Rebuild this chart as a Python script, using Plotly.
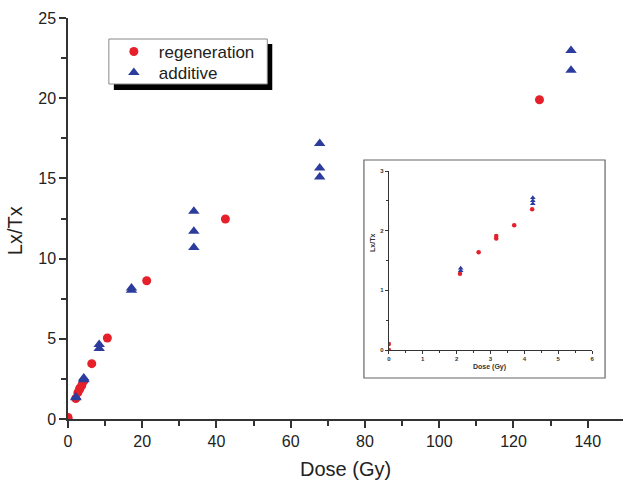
import plotly.graph_objects as go

# Data
reg_dose = [0, 0, 2.1, 2.65, 3.17, 3.17, 3.7, 4.23, 6.4, 10.6, 21.2, 42.4, 127]
reg_lxtx = [0.1, 0.0, 1.28, 1.64, 1.87, 1.91, 2.09, 2.36, 3.45, 5.05, 8.62, 12.47, 19.9]

add_dose = [2.12, 2.12, 4.25, 4.25, 4.25, 8.4, 8.4, 17.1, 17.1, 33.9, 33.9, 33.9,
            67.8, 67.8, 67.8, 135.5, 135.5]
add_lxtx = [1.33, 1.37, 2.45, 2.5, 2.55, 4.4, 4.65, 8.03, 8.16, 10.69, 11.7, 12.95,
            15.09, 15.65, 17.17, 21.75, 22.98]

main_xticks = [0, 20, 40, 60, 80, 100, 120, 140]
main_yticks = [0, 5, 10, 15, 20, 25]
inset_xticks = [0, 1, 2, 3, 4, 5, 6]
inset_yticks = [0, 1, 2, 3]

RED = "#e5202a"
BLUE = "#2c3c9c"
AX = "#333333"
FONT = "Liberation Sans, Arial, sans-serif"

W, H = 625, 484
L, R, T, B = 68, 0, 18, 65
PW, PH = W - L - R, H - T - B


def px(x):
    return (x - L) / PW


def py(y):
    return (H - B - y) / PH


fig = go.Figure()

fig.add_trace(go.Scatter(x=reg_dose, y=reg_lxtx, mode="markers", name="regeneration",
                         marker=dict(symbol="circle", size=9, color=RED),
                         xaxis="x", yaxis="y", legend="legend"))
fig.add_trace(go.Scatter(x=add_dose, y=add_lxtx, mode="markers", name="additive",
                         marker=dict(symbol="triangle-up", size=10, color=BLUE),
                         xaxis="x", yaxis="y", legend="legend2"))

# inset
fig.add_trace(go.Scatter(x=reg_dose, y=reg_lxtx, mode="markers", showlegend=False,
                         marker=dict(symbol="circle", size=4.5, color=RED),
                         xaxis="x2", yaxis="y2"))
fig.add_trace(go.Scatter(x=add_dose, y=add_lxtx, mode="markers", showlegend=False,
                         marker=dict(symbol="triangle-up", size=5, color=BLUE),
                         xaxis="x2", yaxis="y2"))

axis_common = dict(showgrid=False, zeroline=False, showline=True, linecolor=AX,
                   linewidth=1.5, ticks="outside", tickcolor=AX, tickwidth=1.5)
inset_common = dict(showgrid=False, zeroline=False, showline=True, linecolor=AX,
                    linewidth=1, ticks="outside", tickcolor=AX, tickwidth=1, ticklen=3,
                    tickfont=dict(size=6, family=FONT, color="#333333", weight="bold"))

legend_common = dict(xanchor="left", yanchor="middle", bgcolor="rgba(0,0,0,0)",
                     borderwidth=0, font=dict(size=17, family=FONT, color="#222222"),
                     itemwidth=40)

fig.update_layout(
    width=W, height=H,
    margin=dict(l=L, r=R, t=T, b=B),
    paper_bgcolor="white", plot_bgcolor="white",
    font=dict(family=FONT, color="#222222"),
    xaxis=dict(range=[0, 149.5], tickvals=main_xticks, ticklen=7,
               tickfont=dict(size=16), domain=[0, 1], anchor="y",
               minor=dict(dtick=10, tick0=0, ticks="outside", ticklen=5,
                          tickcolor=AX, tickwidth=1.5),
               **axis_common),
    yaxis=dict(range=[0, 25], tickvals=main_yticks, ticklen=7,
               tickfont=dict(size=16), domain=[0, 1], anchor="x",
               minor=dict(dtick=2.5, tick0=0, ticks="outside", ticklen=5,
                          tickcolor=AX, tickwidth=1.5),
               **axis_common),
    xaxis2=dict(range=[0, 6], tickvals=inset_xticks,
                domain=[px(390), px(594)], anchor="y2",
                minor=dict(dtick=0.5, tick0=0, ticks="outside", ticklen=2,
                           tickcolor=AX, tickwidth=1),
                **inset_common),
    yaxis2=dict(range=[0, 3], tickvals=inset_yticks,
                domain=[py(350), py(171)], anchor="x2",
                minor=dict(dtick=0.5, tick0=0, ticks="outside", ticklen=2,
                           tickcolor=AX, tickwidth=1),
                **inset_common),
    legend=dict(x=px(109), y=py(52), **legend_common),
    legend2=dict(x=px(109), y=py(73), **legend_common),
    showlegend=True,
)

shapes = [
    # legend shadow
    dict(type="rect", xref="paper", yref="paper",
         x0=px(114), x1=px(273), y0=py(90), y1=py(44),
         fillcolor="black", line=dict(width=0), layer="above"),
    # legend box
    dict(type="rect", xref="paper", yref="paper",
         x0=px(109), x1=px(268), y0=py(84), y1=py(39),
         fillcolor="white", line=dict(color="#888888", width=1), layer="above"),
    # inset frame
    dict(type="rect", xref="paper", yref="paper",
         x0=px(365), x1=px(607), y0=py(378), y1=py(160),
         fillcolor="white", line=dict(color="#666666", width=1.2), layer="below"),
]
fig.update_layout(shapes=shapes)

ann_common = dict(xref="paper", yref="paper", showarrow=False,
                  xanchor="center", yanchor="middle")
annotations = [
    dict(text="Dose (Gy)", x=px(347), y=py(469),
         font=dict(size=20, family=FONT, color="#222222"), **ann_common),
    dict(text="Lx/Tx", x=px(15), y=py(231), textangle=-90,
         font=dict(size=20, family=FONT, color="#222222"), **ann_common),
    dict(text="<b>Dose (Gy)</b>", x=px(491), y=py(367),
         font=dict(size=7, family=FONT, color="#333333"), **ann_common),
    dict(text="<b>Lx/Tx</b>", x=px(373), y=py(243), textangle=-90,
         font=dict(size=7, family=FONT, color="#333333"), **ann_common),
]
fig.update_layout(annotations=annotations)

fig.write_html("out.html")
